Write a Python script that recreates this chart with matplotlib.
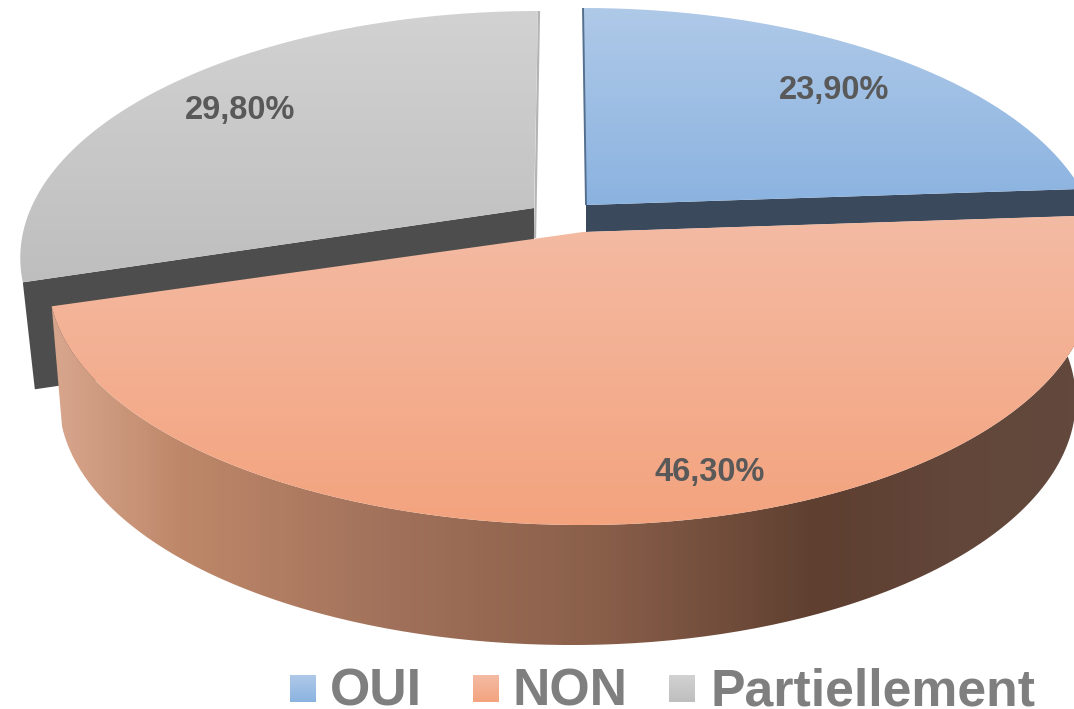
import numpy as np
import matplotlib
matplotlib.use("Agg")
import matplotlib.pyplot as plt
from matplotlib.colors import LinearSegmentedColormap as LSC
from matplotlib.patches import PathPatch
from matplotlib.path import Path

categories = ["OUI", "NON", "Partiellement"]
values = [23.9, 46.3, 29.8]

W, H = 1074, 709
fig = plt.figure(figsize=(W / 100, H / 100), dpi=100)
ax = fig.add_axes([0, 0, 1, 1])
ax.axis("off")

cum = np.cumsum([0] + values) / sum(values) * 2 * np.pi
K = 0.196


def rim(t0, t1, cx, cy, al, ar, b, shear=0.0, n=300):
    """perspective projection of a circle arc; t clockwise from the top"""
    t = np.linspace(t0, t1, n)
    X, Y = np.sin(t), np.cos(t)
    w = 1 + K * Y
    a = np.where(X < 0, al, ar)
    return np.column_stack([cx + a * X / w + shear * Y, cy - b * Y / w])


def vgrad(path, y0, y1, c0, c1, z):
    patch = PathPatch(path, fc="none", ec="none", transform=ax.transData, zorder=z)
    ax.add_patch(patch)
    g = np.linspace(0, 1, 256)[:, None]
    im = ax.imshow(g, cmap=LSC.from_list("g", [c0, c1]), extent=(0, W, y1, y0),
                   aspect="auto", interpolation="bilinear", zorder=z)
    im.set_clip_path(patch)
    return im


def hgrad(path, stops, z):
    patch = PathPatch(path, fc="none", ec="none", transform=ax.transData, zorder=z)
    ax.add_patch(patch)
    g = np.linspace(0, 1, 1074)[None, :]
    cm = LSC.from_list("h", [(x / W, c) for x, c in stops])
    im = ax.imshow(g, cmap=cm, extent=(0, W, H, 0), aspect="auto",
                   interpolation="bilinear", zorder=z)
    im.set_clip_path(patch)


def closed(pts):
    return Path(np.vstack([pts, pts[:1]]), closed=False)


# --- Partiellement: dark cut face, then top
gc = (534.0, 208.0)
g_r = rim(cum[2], cum[3], gc[0], gc[1], 503, 503, 235.6, shear=4)
ax.fill([gc[0], g_r[0, 0], g_r[0, 0] + 12, gc[0]],
        [gc[1], g_r[0, 1], g_r[0, 1] + 107, gc[1] + 108], color="#4D4D4D", lw=0, zorder=1)
ax.plot([g_r[-1, 0] + 1, gc[0] + 1], [g_r[-1, 1], gc[1] + 30], color="#B4B4B4", lw=1.6,
        solid_capstyle="butt", zorder=1.5)
vgrad(closed(np.vstack([[gc], g_r])), 10, 285, "#D2D2D2", "#BEBEBE", 2)

# --- OUI: dark cut face, then top
oc = (586.0, 205.0)
o_r = rim(cum[0], cum[1], oc[0], oc[1], 503, 503, 235.6, shear=-3)
ax.fill([oc[0], o_r[-1, 0], o_r[-1, 0], oc[0]],
        [oc[1], o_r[-1, 1], o_r[-1, 1] + 27, oc[1] + 27], color="#3A4A5C", lw=0, zorder=1)
ax.plot([o_r[0, 0], oc[0]], [o_r[0, 1], oc[1]], color="#55708F", lw=1.4,
        solid_capstyle="butt", zorder=2.5)
vgrad(closed(np.vstack([[oc], o_r])), 8, 205, "#AFC9E8", "#8BB3E0", 2)

# --- NON: wall, then top
nc = (583.0, 232.0)
n_top = rim(cum[1], cum[2], nc[0], nc[1], 524, 500, 235.6)
n_bot = rim(cum[1], cum[2], 572.0, 352.0, 503, 494, 235.6)
wall = np.vstack([n_top, n_bot[::-1]])
hgrad(closed(wall), [(0, "#D8A78F"), (62, "#D6A48B"), (180, "#BE8769"), (400, "#A0705A"),
                     (600, "#8A5F4A"), (820, "#5E3F30"), (950, "#62463A"), (1074, "#63493D")], 3)
vgrad(closed(np.vstack([[nc], n_top])), 215, 525, "#F3BBA4", "#F4A37E", 4)

# --- data labels
label_pos = [(834, 91), (710, 472), (240, 110)]
for v, (x, y) in zip(values, label_pos):
    ax.text(x, y, f"{v:.2f}".replace(".", ",") + "%", ha="center", va="center",
            fontsize=23.5, fontweight="bold", family="Liberation Sans", color="#595959", zorder=6)

# --- legend
sw_x = [290, 473, 669]
tx_x = [330, 513, 710]
sw_cols = [("#AFC9E8", "#8BB3E0"), ("#F3BBA4", "#F4A37E"), ("#D2D2D2", "#BEBEBE")]
for name, sx, tx, (c0, c1) in zip(categories, sw_x, tx_x, sw_cols):
    p = Path(np.array([[sx, 675], [sx + 26, 675], [sx + 26, 702], [sx, 702], [sx, 675.0]]))
    vgrad(p, 675, 702, c0, c1, 5)
    ax.text(tx, 706, name, ha="left", va="baseline", fontsize=37.3, fontweight="bold",
            family="Liberation Sans", color="#7F7F7F", zorder=6)

ax.set_xlim(0, W)
ax.set_ylim(H, 0)
fig.savefig("out.png", dpi=100, facecolor="white")
